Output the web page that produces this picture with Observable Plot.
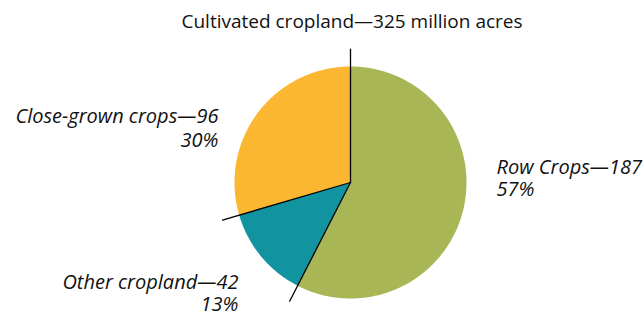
<!DOCTYPE html>
<html><head><meta charset="utf-8">
<script src="https://cdn.jsdelivr.net/npm/d3@7"></script>
<script src="https://cdn.jsdelivr.net/npm/@observablehq/plot@0.6"></script>
<style>body{margin:0;background:#fff} #chart svg{display:block}</style>
</head><body><div id="chart"></div>
<script>
// ---- data ----
const title = "Cultivated cropland\u2014325 million acres";
const categories = ["Row Crops", "Other cropland", "Close-grown crops"];
const acres = [187, 42, 96];
const percents = ["57%", "13%", "30%"];

// ---- geometry derived from data (unit circle, clockwise from top) ----
const total = d3.sum(acres);
let acc = 0;
const slices = categories.map((c, i) => {
  const a0 = acc / total * 2 * Math.PI; acc += acres[i];
  return {category: c, a0, a1: acc / total * 2 * Math.PI, value: acres[i], pct: percents[i]};
});
const polyPoints = slices.flatMap(s => {
  const pts = [{category: s.category, x: 0, y: 0}];
  const n = Math.max(2, Math.ceil((s.a1 - s.a0) / (Math.PI / 360)));
  for (let k = 0; k <= n; k++) {
    const a = s.a0 + (s.a1 - s.a0) * k / n;
    pts.push({category: s.category, x: Math.sin(a), y: -Math.cos(a)});
  }
  pts.push({category: s.category, x: 0, y: 0});
  return pts;
});
const leaderLen = 1.15;
const leaders = slices.flatMap((s, i) => [
  {i, x: 0, y: 0},
  {i, x: leaderLen * Math.sin(s.a0), y: -leaderLen * Math.cos(s.a0)}
]);

// ---- label placement (layout, in scale units) ----
const labelLayout = {
  "Row Crops":         {x: 1.259, y1: -0.069, y2: 0.118, anchor: "start"},
  "Other cropland":    {x: -0.966, y1: 0.914, y2: 1.112, anchor: "end"},
  "Close-grown crops": {x: -1.138, y1: -0.517, y2: -0.302, anchor: "end"}
};
const labels = slices.map(s => ({...s, ...labelLayout[s.category], name: `${s.category}\u2014${s.value}`}));
const startLabels = labels.filter(d => d.anchor === "start");
const endLabels = labels.filter(d => d.anchor === "end");

const font = "Open Sans";
const labelOpts = {lineAnchor: "bottom", fontSize: 20, fontStyle: "italic", fill: "#111"};
const plot = Plot.plot({
  width: 644, height: 316,
  margin: 0,
  x: {domain: [-1, 1], range: [234, 466], axis: null},
  y: {domain: [-1, 1], range: [66, 298], axis: null},
  color: {domain: categories, range: ["#a9b655", "#1194a0", "#fbb732"]},
  style: {fontFamily: font, background: "#fff", color: "#111"},
  marks: [
    Plot.line(polyPoints, {x: "x", y: "y", z: "category", fill: "category", stroke: "none", curve: "linear"}),
    Plot.line(leaders, {x: "x", y: "y", z: "i", stroke: "#000", strokeWidth: 1.3}),
    Plot.text([title], {x: () => 0.013, y: () => -1.334, text: d => d, lineAnchor: "bottom", fontSize: 19, fill: "#111", textAnchor: "middle"}),
    Plot.text(startLabels, {x: "x", y: "y1", text: "name", textAnchor: "start", ...labelOpts}),
    Plot.text(startLabels, {x: "x", y: "y2", text: "pct", textAnchor: "start", ...labelOpts}),
    Plot.text(endLabels, {x: "x", y: "y1", text: "name", textAnchor: "end", ...labelOpts}),
    Plot.text(endLabels, {x: "x", y: "y2", text: "pct", textAnchor: "end", ...labelOpts})
  ]
});
document.getElementById("chart").appendChild(plot);
</script>
</body></html>
